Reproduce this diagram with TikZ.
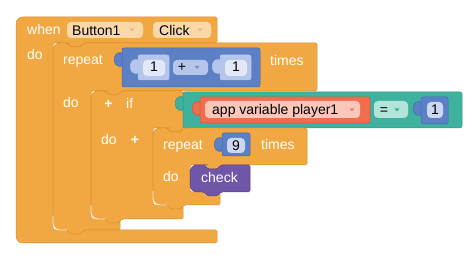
\documentclass[tikz,border=0pt]{standalone}
\usepackage{fontspec}
\setmainfont{Liberation Sans}

\definecolor{ctl}{RGB}{242,168,66}
\definecolor{ctlrim}{RGB}{214,142,44}
\definecolor{ctlfld}{RGB}{250,216,168}
\definecolor{ctlarr}{RGB}{232,186,130}
\definecolor{mth}{RGB}{92,128,198}
\definecolor{mthrim}{RGB}{72,104,170}
\definecolor{mthlt}{RGB}{182,198,234}
\definecolor{mthfld}{RGB}{226,232,247}
\definecolor{mthfldb}{RGB}{204,216,242}
\definecolor{mtharr}{RGB}{120,146,206}
\definecolor{cmp}{RGB}{62,178,158}
\definecolor{cmprim}{RGB}{46,148,130}
\definecolor{cmplt}{RGB}{178,228,218}
\definecolor{var}{RGB}{242,108,78}
\definecolor{varrim}{RGB}{210,84,58}
\definecolor{varlt}{RGB}{250,200,186}
\definecolor{vararr}{RGB}{238,128,108}
\definecolor{prc}{RGB}{112,86,166}
\definecolor{prcrim}{RGB}{88,66,140}

\newcommand{\bfnt}{\fontsize{14}{16}\selectfont}
% notch cut into a block top, tab under a block bottom (drawn right to left)
\newcommand{\notchin}[2]{-- (#1+14,#2) -- (#1+18,#2+4) -- (#1+27,#2+4) -- (#1+31,#2)}
\newcommand{\notchout}[2]{-- (#1+31,#2) -- (#1+27,#2+4) -- (#1+18,#2+4) -- (#1+14,#2)}
% puzzle plug on the left of a value block
\newcommand{\plug}[3]{\draw[#3] (#1+1,#2+5) .. controls (#1-10,#2+3) and (#1-10,#2+20) .. (#1+1,#2+18) -- cycle;}
\newcommand{\ddarrow}[3]{\fill[#3] (#1-2.5,#2-1.5) -- (#1+2.5,#2-1.5) -- (#1,#2+1.5) -- cycle;}

\begin{document}
\begin{tikzpicture}[x=1pt, y=-1pt,
  ctlblk/.style={fill=ctl, draw=ctlrim, line width=0.5pt},
  prcblk/.style={fill=prc, draw=prcrim, line width=0.5pt},
  mthblk/.style={fill=mth, draw=mthrim, line width=0.5pt, rounded corners=2pt},
  cmpblk/.style={fill=cmp, draw=cmprim, line width=0.5pt, rounded corners=2pt},
  varblk/.style={fill=var, draw=varrim, line width=0.5pt, rounded corners=2pt},
  subblk/.style={fill=mthlt, draw=mthlt, line width=0.5pt, rounded corners=2pt},
  fld/.style={rounded corners=4pt},
  hl/.style={draw=white, line width=0.9pt, opacity=0.85, rounded corners=7pt},
  wt/.style={text=white, font=\bfnt, inner sep=0pt, anchor=base west},
  kt/.style={text=black, font=\bfnt, inner sep=0pt, anchor=base west}
]
\useasboundingbox (0,0) rectangle (472,261);

% when Button1.Click
\draw[ctlblk] (16,32) [rounded corners=7pt] -- (16,17) -- (30,17) [rounded corners=1.5pt]
  -- (217,17) -- (217,43) \notchout{53}{43} -- (53,43) -- (53,230) -- (217,230)
  -- (217,243) -- (30,243) [rounded corners=7pt] -- (16,243) -- cycle;
\fill[ctlfld, fld] (67,22) rectangle (143,38);
\fill[ctlfld, fld] (153,22) rectangle (211,38);
\ddarrow{132}{30}{ctlarr}
\ddarrow{200}{30}{ctlarr}

% outer repeat
\draw[ctlblk] (53,58) [rounded corners=7pt] -- (53,43) -- (64,43) [rounded corners=1.5pt]
  \notchin{53}{43} -- (317,43) -- (317,91) \notchout{91}{91} -- (91,91) -- (91,219)
  -- (120,219) -- (120,230) \notchout{53}{230} -- (64,230) [rounded corners=7pt] -- (53,230) -- cycle;
\draw[hl] (53,216) -- (53,230) -- (67,230);

% 1 + 1
\plug{122}{48}{mthblk}
\draw[mthblk] (122,48) rectangle (260,87);
\plug{138}{55}{subblk}
\draw[subblk] (138,55) rectangle (169,80);
\fill[mthfld, fld] (143,60) rectangle (165,76);
\fill[mthlt, fld] (173,60) rectangle (208,75);
\ddarrow{197}{67.5}{mtharr}
\plug{220}{55}{subblk}
\draw[subblk] (220,55) rectangle (251,80);
\fill[mthfld, fld] (225,60) rectangle (247,76);

% if
\draw[ctlblk] (91,106) [rounded corners=7pt] -- (91,91) -- (102,91) [rounded corners=1.5pt]
  \notchin{91}{91} -- (183,91) -- (183,128) \notchout{153}{128} -- (153,128) -- (153,205)
  -- (183,205) -- (183,219) \notchout{91}{219} -- (102,219) [rounded corners=7pt] -- (91,219) -- cycle;
\draw[hl] (91,205) -- (91,219) -- (105,219);

% app variable player1 = 1
\plug{183}{92}{cmpblk}
\draw[cmpblk] (183,92) rectangle (462,128);
\plug{200}{97}{varblk}
\draw[varblk] (200,97) rectangle (370,123);
\fill[varlt, fld] (205,101) rectangle (360,118);
\ddarrow{352}{110}{vararr}
\fill[cmplt, fld] (374,101) rectangle (408,118);
\ddarrow{397}{110}{cmp}
\plug{421}{97}{mthblk}
\draw[mthblk] (421,97) rectangle (448,124);
\fill[mthfldb, fld] (427,102) rectangle (443,118);

% inner repeat
\draw[ctlblk] (153,143) [rounded corners=7pt] -- (153,128) -- (164,128) [rounded corners=1.5pt]
  \notchin{153}{128} -- (307,128) -- (307,165) \notchout{190}{165} -- (190,165) -- (190,192)
  -- (220,192) -- (220,205) \notchout{153}{205} -- (164,205) [rounded corners=7pt] -- (153,205) -- cycle;
\draw[hl] (153,191) -- (153,205) -- (167,205);
\plug{222}{133}{mthblk}
\draw[mthblk] (222,133) rectangle (250,156);
\fill[mthfldb, fld] (227,138) rectangle (245,153);

% check
\draw[prcblk] (190,178) [rounded corners=7pt] -- (190,165) -- (201,165) [rounded corners=1.5pt]
  \notchin{190}{165} -- (250,165) -- (250,192) \notchout{190}{192} -- (201,192)
  [rounded corners=7pt] -- (190,192) -- cycle;

% labels
\node[wt] (whenlbl) at (27,35) {when};
\node[kt] (btnlbl) at (72,36) {Button1};
\node[kt] (clicklbl) at (159,36) {Click};
\node[wt] (dowhen) at (27,60) {do};
\node[wt] (replbl) at (63,65) {repeat};
\node[kt, anchor=base] (numa) at (154,72) {1};
\node[kt, anchor=base] (pluslbl) at (182,72) {+};
\node[kt, anchor=base] (numb) at (236,72) {1};
\node[wt] (timeslbl) at (270,66) {times};
\node[wt] (dorep) at (63,108) {do};
\node[wt, font=\bfnt\bfseries, anchor=base] (ifplus) at (108.5,109) {+};
\node[wt] (iflbl) at (126,109) {if};
\node[kt] (varlbl) at (212,115) {app variable player1};
\node[kt, anchor=base] (eqlbl) at (384,115) {=};
\node[kt, anchor=base] (numc) at (435,115) {1};
\node[wt] (doif) at (101,145) {do};
\node[wt, font=\bfnt\bfseries, anchor=base] (doplus) at (135,145) {+};
\node[wt] (repinlbl) at (163,150) {repeat};
\node[kt, anchor=base] (numd) at (236,151) {9};
\node[wt] (timesinlbl) at (261,150) {times};
\node[wt] (dorepin) at (163,182) {do};
\node[wt] (checklbl) at (201,183) {check};
\end{tikzpicture}
\end{document}
